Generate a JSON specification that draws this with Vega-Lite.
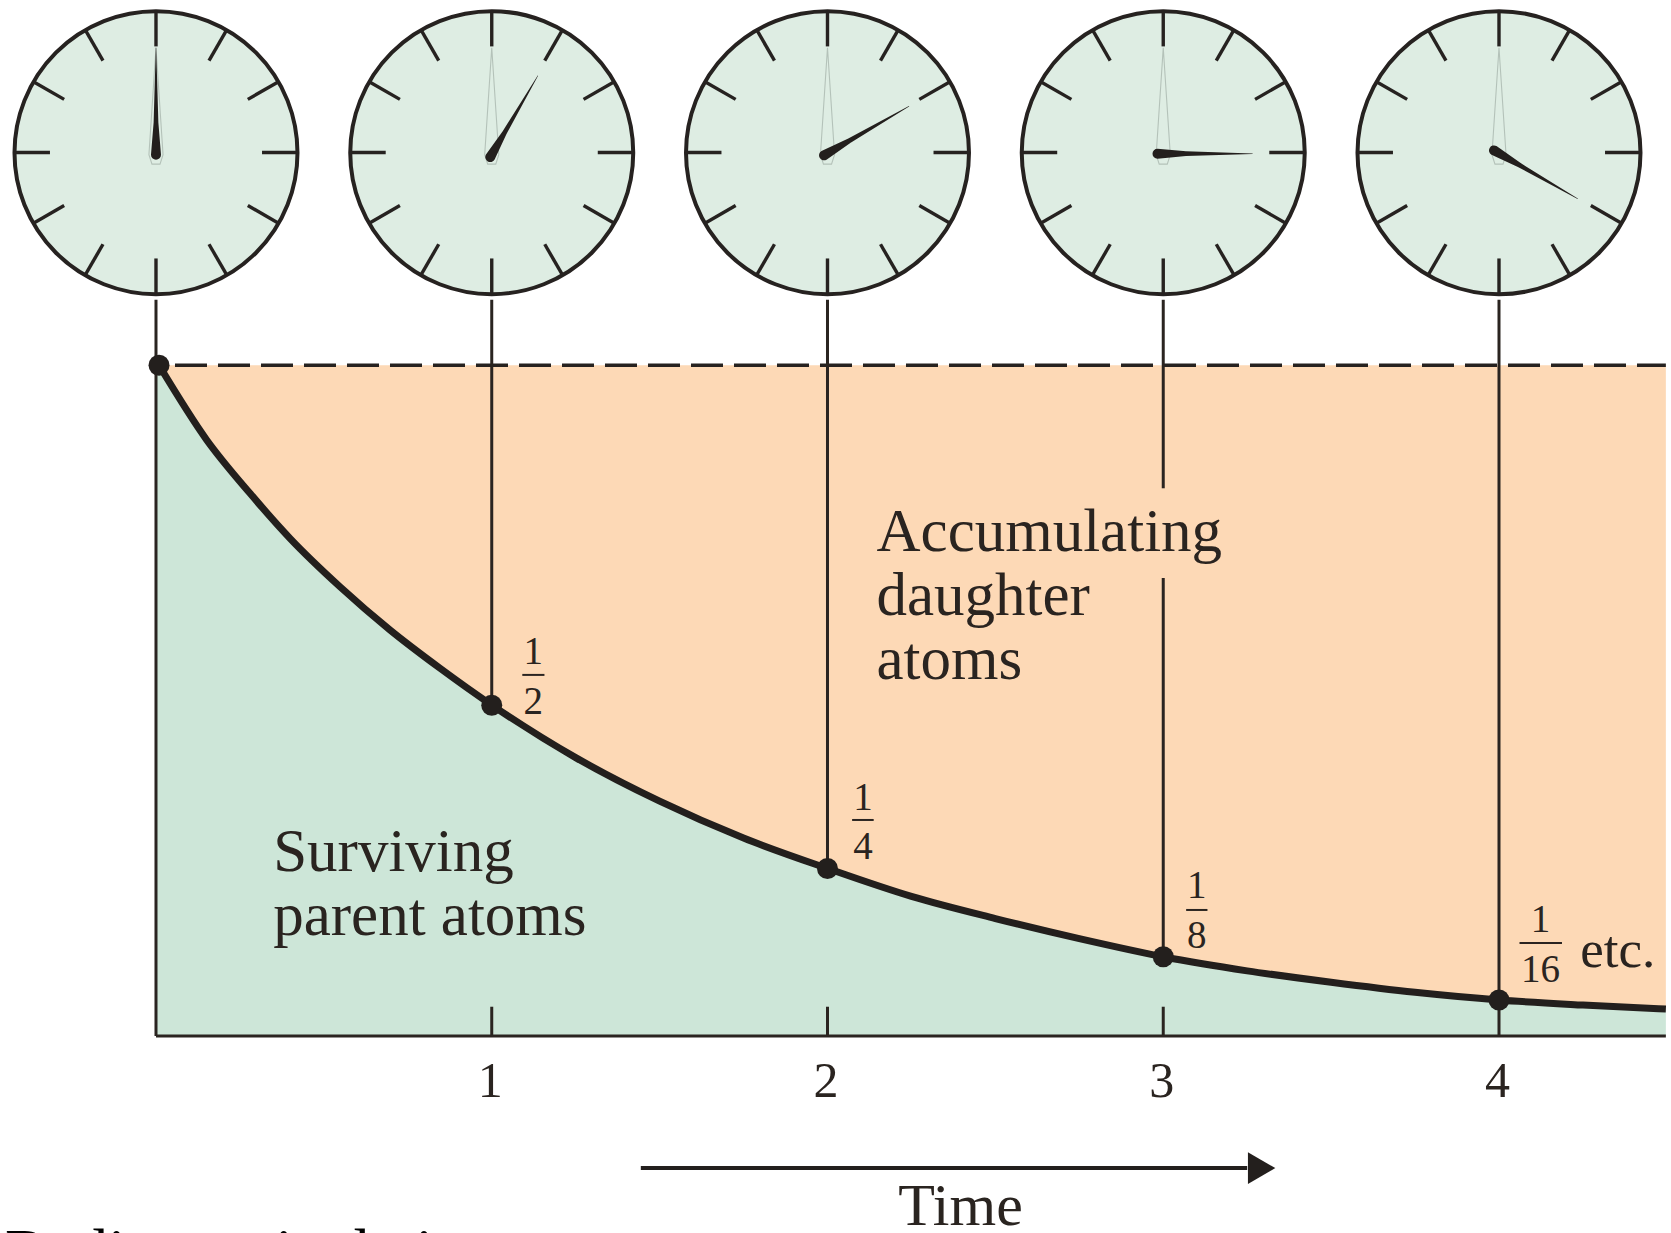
{
"$schema":"https://vega.github.io/schema/vega-lite/v6.json",
"width":1671,"height":1233,"padding":0,"autosize":{"type":"none"},"background":"#ffffff",
"config":{"view":{"stroke":null}},
"datasets":{
"curve":[{"x":0,"y":1.004},{"x":0.009,"y":1},{"x":0.151,"y":0.8887},{"x":0.28,"y":0.8091},{"x":0.399,"y":0.742},{"x":0.548,"y":0.6698},{"x":0.697,"y":0.6053},{"x":0.846,"y":0.5482},{"x":1,"y":0.4934},{"x":1.25,"y":0.415},{"x":1.5,"y":0.35},{"x":1.75,"y":0.295},{"x":2,"y":0.2497},{"x":2.25,"y":0.208},{"x":2.5,"y":0.175},{"x":2.75,"y":0.145},{"x":3,"y":0.118},{"x":3.25,"y":0.097},{"x":3.5,"y":0.08},{"x":3.75,"y":0.065},{"x":4,"y":0.0535},{"x":4.25,"y":0.046},{"x":4.497,"y":0.04}],
"dots":[{"x":0.009,"y":1},{"x":1,"y":0.493},{"x":2,"y":0.2497},{"x":3,"y":0.118},{"x":4,"y":0.0535}],
"stems":[{"x":0,"x2":0,"y":1.0977,"y2":0},{"x":1,"x2":1,"y":1.0977,"y2":0.493},{"x":2,"x2":2,"y":1.0977,"y2":0.2497},{"x":3,"x2":3,"y":1.0977,"y2":0.8166},{"x":3,"x2":3,"y":0.6828,"y2":0.118},{"x":4,"x2":4,"y":1.0977,"y2":0},{"x":1,"x2":1,"y":0.0435,"y2":0},{"x":2,"x2":2,"y":0.0435,"y2":0},{"x":3,"x2":3,"y":0.0435,"y2":0},{"x":0,"x2":4.497,"y":0,"y2":0}],
"clocks":[{"x":0,"y":1.317},{"x":1,"y":1.317},{"x":2,"y":1.317},{"x":3,"y":1.317},{"x":4,"y":1.317}],
"ticks":[
{"x":0,"y":1.5292,"x2":0,"y2":1.4755},{"x":0.2115,"y":1.5008,"x2":0.1579,"y2":1.4543},{"x":0.3663,"y":1.4233,"x2":0.2735,"y2":1.3965},{"x":0.423,"y":1.3174,"x2":0.3158,"y2":1.3174},{"x":0.3663,"y":1.2115,"x2":0.2735,"y2":1.2383},{"x":0.2115,"y":1.134,"x2":0.1579,"y2":1.1805},{"x":0,"y":1.1056,"x2":0,"y2":1.1593},{"x":-0.2115,"y":1.134,"x2":-0.1579,"y2":1.1805},{"x":-0.3663,"y":1.2115,"x2":-0.2735,"y2":1.2383},{"x":-0.423,"y":1.3174,"x2":-0.3158,"y2":1.3174},{"x":-0.3663,"y":1.4233,"x2":-0.2735,"y2":1.3965},{"x":-0.2115,"y":1.5008,"x2":-0.1579,"y2":1.4543},
{"x":1,"y":1.5292,"x2":1,"y2":1.4755},{"x":1.2115,"y":1.5008,"x2":1.1579,"y2":1.4543},{"x":1.3663,"y":1.4233,"x2":1.2735,"y2":1.3965},{"x":1.423,"y":1.3174,"x2":1.3158,"y2":1.3174},{"x":1.3663,"y":1.2115,"x2":1.2735,"y2":1.2383},{"x":1.2115,"y":1.134,"x2":1.1579,"y2":1.1805},{"x":1,"y":1.1056,"x2":1,"y2":1.1593},{"x":0.7885,"y":1.134,"x2":0.8421,"y2":1.1805},{"x":0.6337,"y":1.2115,"x2":0.7265,"y2":1.2383},{"x":0.577,"y":1.3174,"x2":0.6842,"y2":1.3174},{"x":0.6337,"y":1.4233,"x2":0.7265,"y2":1.3965},{"x":0.7885,"y":1.5008,"x2":0.8421,"y2":1.4543},
{"x":2,"y":1.5292,"x2":2,"y2":1.4755},{"x":2.2115,"y":1.5008,"x2":2.1579,"y2":1.4543},{"x":2.3663,"y":1.4233,"x2":2.2735,"y2":1.3965},{"x":2.423,"y":1.3174,"x2":2.3158,"y2":1.3174},{"x":2.3663,"y":1.2115,"x2":2.2735,"y2":1.2383},{"x":2.2115,"y":1.134,"x2":2.1579,"y2":1.1805},{"x":2,"y":1.1056,"x2":2,"y2":1.1593},{"x":1.7885,"y":1.134,"x2":1.8421,"y2":1.1805},{"x":1.6337,"y":1.2115,"x2":1.7265,"y2":1.2383},{"x":1.577,"y":1.3174,"x2":1.6842,"y2":1.3174},{"x":1.6337,"y":1.4233,"x2":1.7265,"y2":1.3965},{"x":1.7885,"y":1.5008,"x2":1.8421,"y2":1.4543},
{"x":3,"y":1.5292,"x2":3,"y2":1.4755},{"x":3.2115,"y":1.5008,"x2":3.1579,"y2":1.4543},{"x":3.3663,"y":1.4233,"x2":3.2735,"y2":1.3965},{"x":3.423,"y":1.3174,"x2":3.3158,"y2":1.3174},{"x":3.3663,"y":1.2115,"x2":3.2735,"y2":1.2383},{"x":3.2115,"y":1.134,"x2":3.1579,"y2":1.1805},{"x":3,"y":1.1056,"x2":3,"y2":1.1593},{"x":2.7885,"y":1.134,"x2":2.8421,"y2":1.1805},{"x":2.6337,"y":1.2115,"x2":2.7265,"y2":1.2383},{"x":2.577,"y":1.3174,"x2":2.6842,"y2":1.3174},{"x":2.6337,"y":1.4233,"x2":2.7265,"y2":1.3965},{"x":2.7885,"y":1.5008,"x2":2.8421,"y2":1.4543},
{"x":4,"y":1.5292,"x2":4,"y2":1.4755},{"x":4.2115,"y":1.5008,"x2":4.1579,"y2":1.4543},{"x":4.3663,"y":1.4233,"x2":4.2735,"y2":1.3965},{"x":4.423,"y":1.3174,"x2":4.3158,"y2":1.3174},{"x":4.3663,"y":1.2115,"x2":4.2735,"y2":1.2383},{"x":4.2115,"y":1.134,"x2":4.1579,"y2":1.1805},{"x":4,"y":1.1056,"x2":4,"y2":1.1593},{"x":3.7885,"y":1.134,"x2":3.8421,"y2":1.1805},{"x":3.6337,"y":1.2115,"x2":3.7265,"y2":1.2383},{"x":3.577,"y":1.3174,"x2":3.6842,"y2":1.3174},{"x":3.6337,"y":1.4233,"x2":3.7265,"y2":1.3965},{"x":3.7885,"y":1.5008,"x2":3.8421,"y2":1.4543}
],
"ghost":[
{"clock":0,"seq":0,"x":0,"y":1.4735},{"clock":0,"seq":1,"x":0.021,"y":1.314},{"clock":0,"seq":2,"x":0.012,"y":1.3},{"clock":0,"seq":3,"x":-0.012,"y":1.3},{"clock":0,"seq":4,"x":-0.021,"y":1.314},{"clock":0,"seq":5,"x":0,"y":1.4735},
{"clock":1,"seq":0,"x":1,"y":1.4735},{"clock":1,"seq":1,"x":1.021,"y":1.314},{"clock":1,"seq":2,"x":1.012,"y":1.3},{"clock":1,"seq":3,"x":0.988,"y":1.3},{"clock":1,"seq":4,"x":0.979,"y":1.314},{"clock":1,"seq":5,"x":1,"y":1.4735},
{"clock":2,"seq":0,"x":2,"y":1.4735},{"clock":2,"seq":1,"x":2.021,"y":1.314},{"clock":2,"seq":2,"x":2.012,"y":1.3},{"clock":2,"seq":3,"x":1.988,"y":1.3},{"clock":2,"seq":4,"x":1.979,"y":1.314},{"clock":2,"seq":5,"x":2,"y":1.4735},
{"clock":3,"seq":0,"x":3,"y":1.4735},{"clock":3,"seq":1,"x":3.021,"y":1.314},{"clock":3,"seq":2,"x":3.012,"y":1.3},{"clock":3,"seq":3,"x":2.988,"y":1.3},{"clock":3,"seq":4,"x":2.979,"y":1.314},{"clock":3,"seq":5,"x":3,"y":1.4735},
{"clock":4,"seq":0,"x":4,"y":1.4735},{"clock":4,"seq":1,"x":4.021,"y":1.314},{"clock":4,"seq":2,"x":4.012,"y":1.3},{"clock":4,"seq":3,"x":3.988,"y":1.3},{"clock":4,"seq":4,"x":3.979,"y":1.314},{"clock":4,"seq":5,"x":4,"y":1.4735}
],
"hands":[
{"clock":0,"r":0,"x":0,"y":1.314},{"clock":0,"r":0.3,"x":0,"y":1.362},{"clock":0,"r":1,"x":0,"y":1.4735},
{"clock":1,"r":0,"x":0.9957,"y":1.3105},{"clock":1,"r":0.3,"x":1.0382,"y":1.3469},{"clock":1,"r":1,"x":1.1375,"y":1.4318},
{"clock":2,"r":0,"x":1.9896,"y":1.3131},{"clock":2,"r":0.3,"x":2.0655,"y":1.335},{"clock":2,"r":1,"x":2.2427,"y":1.3862},
{"clock":3,"r":0,"x":2.9829,"y":1.3155},{"clock":3,"r":0.3,"x":3.0678,"y":1.3155},{"clock":3,"r":1,"x":3.2658,"y":1.3155},
{"clock":4,"r":0,"x":3.9851,"y":1.3204},{"clock":4,"r":0.3,"x":4.0599,"y":1.2988},{"clock":4,"r":1,"x":4.2344,"y":1.2484}
],
"labels":[{"x":2.146,"y":0.7233,"t":"Accumulating"},{"x":2.146,"y":0.628,"t":"daughter"},{"x":2.146,"y":0.5326,"t":"atoms"},{"x":0.349,"y":0.2464,"t":"Surviving"},{"x":0.349,"y":0.1511,"t":"parent atoms"}],
"fracs":[{"x":1.124,"y":0.5547,"t":"1"},{"x":1.124,"y":0.4801,"t":"2"},{"x":2.1055,"y":0.337,"t":"1"},{"x":2.1055,"y":0.2639,"t":"4"},{"x":3.0998,"y":0.2057,"t":"1"},{"x":3.0998,"y":0.1311,"t":"8"},{"x":4.1236,"y":0.1554,"t":"1"},{"x":4.1236,"y":0.0808,"t":"16"}],
"bars":[{"x":1.091,"x2":1.157,"y":0.5383},{"x":2.0733,"x2":2.1376,"y":0.322},{"x":3.0682,"x2":3.1317,"y":0.1878},{"x":4.0611,"x2":4.1876,"y":0.1386}]
},
"encoding":{
"x":{"field":"x","type":"quantitative","scale":{"domain":[-0.4646,4.5123],"nice":false,"zero":false},
"axis":{"values":[1,2,3,4],"format":"d","grid":false,"domain":false,"ticks":false,"offset":-197.1,"zindex":1,"labelFont":"Liberation Serif","labelFontSize":50,"labelColor":"#2a2420","labelBaseline":"alphabetic","labelPadding":61,"labelOffset":-2,"title":"Time","titleFont":"Liberation Serif","titleFontSize":60,"titleFontWeight":"normal","titleColor":"#2a2420","titleAlign":"center","titleBaseline":"alphabetic","titleAnchor":null,"titleX":960,"titleY":189}},
"y":{"field":"y","type":"quantitative","scale":{"domain":[-0.2939,1.5447],"nice":false,"zero":false},"axis":null}
},
"layer":[
{"data":{"name":"curve"},"mark":{"type":"area","color":"#FDD9B6","interpolate":"monotone"},"encoding":{"y2":{"datum":1}}},
{"data":{"name":"curve"},"mark":{"type":"area","color":"#CDE6D8","interpolate":"monotone"},"encoding":{"y2":{"datum":0}}},
{"data":{"values":[{"x":0.0566,"x2":4.497,"y":1}]},"mark":{"type":"rule","stroke":"#262220","strokeWidth":3.6,"strokeDash":[32,11]},"encoding":{"x2":{"field":"x2"}}},
{"data":{"name":"stems"},"mark":{"type":"rule","stroke":"#2a2420","strokeWidth":3},"encoding":{"x2":{"field":"x2"},"y2":{"field":"y2"}}},
{"data":{"name":"curve"},"transform":[{"filter":"datum.y<=1"}],"mark":{"type":"line","stroke":"#231f1d","strokeWidth":7,"interpolate":"monotone"},"encoding":{}},
{"data":{"name":"dots"},"mark":{"type":"point","filled":true,"fill":"#231f1d","stroke":null,"opacity":1,"size":441},"encoding":{}},
{"data":{"name":"clocks"},"mark":{"type":"point","filled":true,"fill":"#DEEDE3","stroke":"#262220","strokeWidth":4,"opacity":1,"size":80089},"encoding":{}},
{"data":{"name":"ticks"},"mark":{"type":"rule","stroke":"#262220","strokeWidth":3.4},"encoding":{"x2":{"field":"x2"},"y2":{"field":"y2"}}},
{"data":{"name":"ghost"},"mark":{"type":"line","stroke":"#b4c2b9","strokeWidth":1.1},"encoding":{"detail":{"field":"clock"},"order":{"field":"seq"}}},
{"data":{"name":"hands"},"mark":{"type":"trail","color":"#231f1d"},"encoding":{"detail":{"field":"clock"},"order":{"field":"r"},"size":{"field":"r","type":"quantitative","legend":null,"scale":{"type":"pow","exponent":0.5,"domain":[0,1],"range":[10,0.4]}}}},
{"data":{"name":"labels"},"mark":{"type":"text","font":"Liberation Serif","fontSize":61,"align":"left","baseline":"alphabetic","color":"#2a2420"},"encoding":{"text":{"field":"t"}}},
{"data":{"name":"fracs"},"mark":{"type":"text","font":"Liberation Serif","fontSize":39,"align":"center","baseline":"alphabetic","color":"#2a2420"},"encoding":{"text":{"field":"t"}}},
{"data":{"name":"bars"},"mark":{"type":"rule","stroke":"#2a2420","strokeWidth":2},"encoding":{"x2":{"field":"x2"}}},
{"data":{"values":[{"x":4.2419,"y":0.1032,"t":"etc."}]},"mark":{"type":"text","font":"Liberation Serif","fontSize":53,"align":"left","baseline":"alphabetic","color":"#2a2420"},"encoding":{"text":{"field":"t"}}},
{"data":{"values":[{"x":1.444,"x2":3.25,"y":-0.1971}]},"mark":{"type":"rule","stroke":"#231f1d","strokeWidth":4},"encoding":{"x2":{"field":"x2"}}},
{"data":{"values":[{"x":3.293,"y":-0.1971}]},"mark":{"type":"point","shape":"triangle-right","filled":true,"fill":"#231f1d","stroke":null,"opacity":1,"size":1000},"encoding":{}},
{"data":{"values":[{"x":-0.4497,"y":-0.3536,"t":"Radiometric dating"}]},"mark":{"type":"text","font":"Liberation Serif","fontSize":64,"align":"left","baseline":"alphabetic","color":"#000000"},"encoding":{"text":{"field":"t"}}}
]
}
